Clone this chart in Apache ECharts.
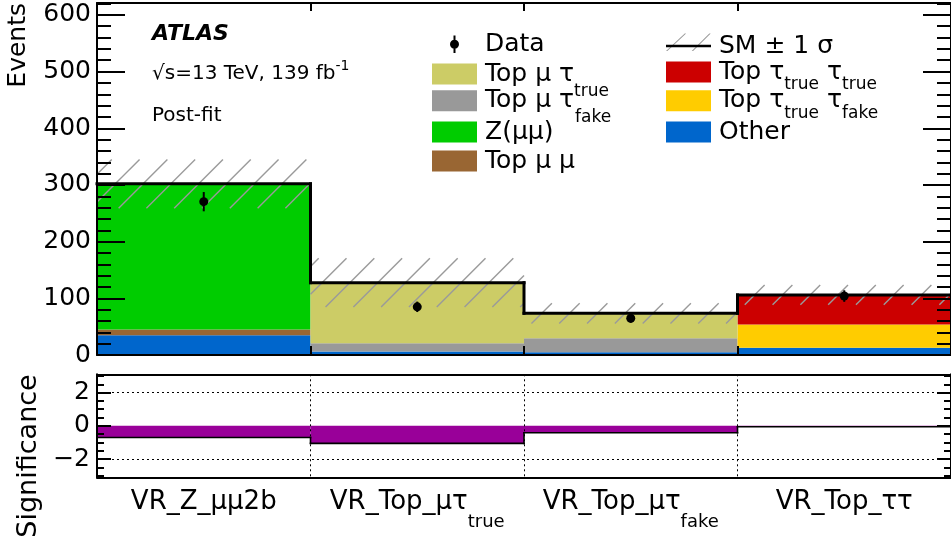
<!DOCTYPE html>
<html><head><meta charset="utf-8">
<script src="https://cdn.jsdelivr.net/npm/echarts@6/dist/echarts.min.js"></script>
<style>html,body{margin:0;padding:0;background:#fff}#c{width:951px;height:545px}</style>
</head><body><div id="c"></div>
<script>
// ---------------- data ----------------
const categories = ['VR_Z_μμ2b', 'VR_Top_μτ_true', 'VR_Top_μτ_fake', 'VR_Top_ττ'];
const tickLabelMain = ['VR_Z_μμ2b', 'VR_Top_μτ', 'VR_Top_μτ', 'VR_Top_ττ'];
const tickLabelSub = ['', 'true', 'fake', ''];

const other = [35, 6, 5, 13];
const topMuMu = [10, 0, 0, 0];
const topMuTauFake = [0, 14.6, 24.5, 0];
const topTauTrueTauFake = [0, 0, 0, 41];
const topTauTrueTauTrue = [0, 0, 0, 52];
const zMuMu = [257, 0, 0, 0];
const topMuTau = [0, 107, 44, 0];

const smUncertainty = [43, 43, 18, 17.5];
const dataValues = [270.5, 85, 64.8, 104];
const dataErrors = [17, 9.2, 8, 10.2];
const significance = [-0.7, -1.06, -0.42, -0.06];

const yTickLabels = [0, 100, 200, 300, 400, 500, 600];
const yMinorTicks = [0,20,40,60,80,100,120,140,160,180,200,220,240,260,280,300,320,340,360,380,400,420,440,460,480,500,520,540,560,580,600,620];
const sigTickLabels = [-2, 0, 2];
const sigMinorTicks = [-3,-2.5,-2,-1.5,-1,-0.5,0,0.5,1,1.5,2,2.5,3];

// ---------------- helpers ----------------
const FONT = 'DejaVu Sans';
const stackDefs = [
  {name: 'Other', data: other, color: '#0066cc'},
  {name: 'Top μ μ', data: topMuMu, color: '#996633'},
  {name: 'Top μ τ fake', data: topMuTauFake, color: '#999999'},
  {name: 'Top τ true τ fake', data: topTauTrueTauFake, color: '#ffcc00'},
  {name: 'Top τ true τ true', data: topTauTrueTauTrue, color: '#cc0000'},
  {name: 'Z(μμ)', data: zMuMu, color: '#00cc00'},
  {name: 'Top μ τ', data: topMuTau, color: '#cccc66'}
];
const totals = categories.map((c, i) => stackDefs.reduce((s, d) => s + d.data[i], 0));

const TOP_MAX = 621, SIG_MIN = -3.1, SIG_MAX = 3.1;

function stepRender(values, width) {
  return function (params, api) {
    const i = api.value(0), v = api.value(1);
    const c = api.coord([i, v]);
    const w = api.size([1, 0])[0];
    const x0 = c[0] - w / 2, x1 = c[0] + w / 2;
    const st = {stroke: '#000', lineWidth: width, lineCap: 'square'};
    const children = [{type: 'line', shape: {x1: x0, y1: c[1], x2: x1, y2: c[1]}, style: st}];
    if (i > 0) {
      const p = api.coord([i - 1, values[i - 1]]);
      children.push({type: 'line', shape: {x1: x0, y1: p[1], x2: x0, y2: c[1]}, style: st});
    }
    return {type: 'group', children};
  };
}

const series = [];
stackDefs.forEach(d => series.push({
  type: 'bar', name: d.name, stack: 'sm', xAxisIndex: 0, yAxisIndex: 0,
  data: d.data, barCategoryGap: '0%', itemStyle: {color: d.color, borderWidth: 0},
  emphasis: {disabled: true}, z: 2
}));
// uncertainty hatch
series.push({
  type: 'custom', name: 'SM unc', xAxisIndex: 0, yAxisIndex: 0, z: 3,
  itemStyle: {color: '#999999'},
  data: totals.map((t, i) => [i, t - smUncertainty[i], t + smUncertainty[i]]),
  renderItem: function (params, api) {
    const i = api.value(0), lo = api.value(1), hi = api.value(2);
    const cLo = api.coord([i, lo]), cHi = api.coord([i, hi]);
    const w = api.size([1, 0])[0];
    const x0 = cLo[0] - w / 2, x1 = cLo[0] + w / 2, yT = cHi[1], yB = cLo[1];
    const sp = 27.8, ph = 21;
    const children = [];
    const cMin = x0 + yT, cMax = x1 + yB;
    let k = Math.ceil((cMin - ph) / sp);
    for (let c = k * sp + ph; c <= cMax; c += sp) {
      const xa = Math.max(x0, c - yB), xb = Math.min(x1, c - yT);
      if (xb > xa) children.push({type: 'line', shape: {x1: xa, y1: c - xa, x2: xb, y2: c - xb},
        style: {stroke: '#9a9a9a', lineWidth: 1.4}});
    }
    return {type: 'group', children};
  }
});
// SM total line
series.push({
  type: 'custom', name: 'SM ± 1 σ', xAxisIndex: 0, yAxisIndex: 0, z: 4,
  itemStyle: {color: '#000'},
  data: totals.map((t, i) => [i, t]),
  renderItem: stepRender(totals, 3)
});
// data points
series.push({
  type: 'custom', name: 'Data', xAxisIndex: 0, yAxisIndex: 0, z: 5,
  itemStyle: {color: '#000'},
  data: dataValues.map((v, i) => [i, v, dataErrors[i]]),
  renderItem: function (params, api) {
    const i = api.value(0), v = api.value(1), e = api.value(2);
    const c = api.coord([i, v]), t = api.coord([i, v + e]), b = api.coord([i, v - e]);
    return {type: 'group', children: [
      {type: 'line', shape: {x1: c[0], y1: t[1], x2: c[0], y2: b[1]}, style: {stroke: '#000', lineWidth: 2}},
      {type: 'circle', shape: {cx: c[0], cy: c[1], r: 4.5}, style: {fill: '#000'}}
    ]};
  }
});
// significance
series.push({
  type: 'bar', name: 'Significance', xAxisIndex: 2, yAxisIndex: 4, data: significance,
  barCategoryGap: '0%', itemStyle: {color: '#990099'}, emphasis: {disabled: true}, z: 2,
  markLine: {silent: true, symbol: 'none', label: {show: false},
    lineStyle: {type: [2, 3], color: '#000', width: 1},
    data: [{yAxis: 2}, {yAxis: -2}]}
});
series.push({
  type: 'custom', name: 'sig outline', xAxisIndex: 2, yAxisIndex: 4, z: 4,
  data: significance.map((v, i) => [i, v]),
  renderItem: stepRender(significance, 1.6)
});

// ---------------- legend ----------------
const legendRich = {
  m: {fontFamily: FONT, fontSize: 25, lineHeight: 21, verticalAlign: 'middle', color: '#000', padding: [0, 0, 0, 3]},
  n: {fontFamily: FONT, fontSize: 25, lineHeight: 21, verticalAlign: 'middle', color: '#000'},
  sub: {fontFamily: FONT, fontSize: 17, lineHeight: 17, verticalAlign: 'middle', padding: [26, 0, 0, 0], color: '#000'},
  sup: {fontFamily: FONT, fontSize: 17, lineHeight: 17, verticalAlign: 'middle', padding: [0, 0, 18, 0], width: 1, color: '#000'},
  sub2: {fontFamily: FONT, fontSize: 17, lineHeight: 17, verticalAlign: 'middle', padding: [34, 0, 0, 0], color: '#000'}
};
const dataIcon = 'path://M0,0M45,21M21.5,1.7L23.5,1.7L23.5,19.3L21.5,19.3ZM18,10.5A4.5,4.5,0,1,1,27,10.5A4.5,4.5,0,1,1,18,10.5Z';
const smLineIcon = 'path://M0,0M45,21M0,9.3L45,9.3L45,11.7L0,11.7Z';
const smHatchIcon = 'path://M0,0M45,21M0,17.5L1.4,17.5L20.1,0L18.7,0ZM25.7,17.5L27.1,17.5L44.7,0L43.3,0Z';
const legendRows = [
  {name: 'SM unc', left: 666, cy: 44, h: 21, text: '', icon: smHatchIcon, color: '#999999'},
  {name: 'Data', left: 432, cy: 42.2, h: 21, text: '{m|Data}', icon: dataIcon, color: '#000'},
  {name: 'Top μ τ', left: 432, cy: 72, h: 21, text: '{m|Top μ τ}'},
  {name: 'Top μ τ fake', left: 432, cy: 100.7, h: 51, text: '{m|Top μ τ}{sup|true}{sub2|fake}'},
  {name: 'Z(μμ)', left: 432, cy: 130, h: 21, text: '{m|Z(μμ)}'},
  {name: 'Top μ μ', left: 432, cy: 159, h: 21, text: '{m|Top μ μ}'},
  {name: 'SM ± 1 σ', left: 666, cy: 44, h: 21, text: '{m|SM ± 1 σ}', icon: smLineIcon, color: '#000'},
  {name: 'Top τ true τ true', left: 666, cy: 72, h: 43, text: '{m|Top τ}{sub|true}{n| τ}{sub|true}'},
  {name: 'Top τ true τ fake', left: 666, cy: 100.7, h: 43, text: '{m|Top τ}{sub|true}{n| τ}{sub|fake}'},
  {name: 'Other', left: 666, cy: 130, h: 21, text: '{m|Other}'}
];
const legends = legendRows.map((r, k) => {
  const item = {name: r.name, icon: r.icon || 'rect'};
  if (r.color) item.itemStyle = {color: r.color, borderWidth: 0};
  return {
    show: true, selectedMode: false, orient: 'vertical', z: 10 + k,
    left: r.left, top: r.cy - r.h / 2, padding: 0, itemGap: 0,
    itemWidth: 45, itemHeight: 21, data: [item],
    formatter: () => r.text,
    textStyle: {fontFamily: FONT, fontSize: 25, lineHeight: 21, color: '#000', rich: legendRich}
  };
});

// ---------------- axes ----------------
const axisLine = {show: true, onZero: false, lineStyle: {color: '#000', width: 2}};
const tickStyle = {color: '#000', width: 2};
function catAxis(grid, pos, extra) {
  return Object.assign({
    type: 'category', gridIndex: grid, position: pos, data: categories, z: 10,
    axisLine: axisLine, axisTick: {show: false}, axisLabel: {show: false}, splitLine: {show: false}
  }, extra);
}
function valAxis(grid, pos, min, max, ticks, len, extra) {
  return Object.assign({
    type: 'value', gridIndex: grid, position: pos, min: min, max: max, z: 10,
    axisLine: {show: false}, splitLine: {show: false},
    axisTick: {show: true, inside: true, length: len, customValues: ticks, lineStyle: tickStyle},
    axisLabel: {show: false}
  }, extra);
}
const sigFmt = v => (v < 0 ? '\u2212' + Math.abs(v) : String(v));

const option = {
  animation: false,
  backgroundColor: '#fff',
  grid: [
    {left: 97, top: 3, width: 860, height: 352, show: false},
    {left: 97, top: 374.3, width: 860, height: 103, show: false}
  ],
  xAxis: [
    catAxis(0, 'bottom', {axisTick: {show: true, inside: true, length: 9, interval: 0, lineStyle: tickStyle}}),
    catAxis(0, 'top', {axisTick: {show: true, inside: true, length: 8, interval: 0, lineStyle: tickStyle}}),
    catAxis(1, 'bottom', {
      splitLine: {show: true, interval: 0, lineStyle: {type: [2, 3], color: '#000', width: 1}},
      axisLabel: {
        show: true, interval: 0, margin: -5, color: '#000',
        formatter: (v, idx) => '{m|' + tickLabelMain[idx] + '}' + (tickLabelSub[idx] ? '{s|' + tickLabelSub[idx] + '}' : ''),
        rich: {
          m: {fontFamily: FONT, fontSize: 26, lineHeight: 60, verticalAlign: 'middle', color: '#000'},
          s: {fontFamily: FONT, fontSize: 18, lineHeight: 18, verticalAlign: 'middle', padding: [40, 0, 0, 0], color: '#000'}
        }
      }
    }),
    catAxis(1, 'top', {})
  ],
  yAxis: [
    valAxis(0, 'left', 0, TOP_MAX, yTickLabels, 28, {
      axisLine: axisLine,
      axisLabel: {show: true, customValues: yTickLabels, margin: 6, color: '#000', fontFamily: FONT, fontSize: 25},
      name: 'Events', nameLocation: 'end', nameRotate: 90, nameGap: 0,
      nameTextStyle: {fontFamily: FONT, fontSize: 25, color: '#000', align: 'right', verticalAlign: 'bottom', padding: [0, 0, 66, 0]}
    }),
    valAxis(0, 'left', 0, TOP_MAX, yMinorTicks, 14),
    valAxis(0, 'right', 0, TOP_MAX, yTickLabels, 28, {axisLine: axisLine}),
    valAxis(0, 'right', 0, TOP_MAX, yMinorTicks, 14),
    valAxis(1, 'left', SIG_MIN, SIG_MAX, sigTickLabels, 14, {
      axisLine: axisLine,
      axisLabel: {show: true, customValues: sigTickLabels, formatter: sigFmt, margin: 7, color: '#000', fontFamily: FONT, fontSize: 25},
      name: 'Significance', nameLocation: 'end', nameRotate: 90, nameGap: 0,
      nameTextStyle: {fontFamily: FONT, fontSize: 27, color: '#000', align: 'right', verticalAlign: 'bottom', padding: [0, 0, 55, 0]}
    }),
    valAxis(1, 'left', SIG_MIN, SIG_MAX, sigMinorTicks, 7),
    valAxis(1, 'right', SIG_MIN, SIG_MAX, sigTickLabels, 14, {axisLine: axisLine}),
    valAxis(1, 'right', SIG_MIN, SIG_MAX, sigMinorTicks, 7)
  ],
  legend: legends,
  graphic: [
    {type: 'text', x: 152, y: 34.5, z: 20, style: {text: 'ATLAS', fontFamily: FONT, fontSize: 22, fontWeight: 'bold', fontStyle: 'italic', fill: '#000', verticalAlign: 'middle'}},
    {type: 'text', x: 152, y: 73.4, z: 20, style: {
      text: '{m|√s=13 TeV, 139 fb}{sup|-1}', fill: '#000', verticalAlign: 'middle',
      rich: {
        m: {fontFamily: FONT, fontSize: 20, lineHeight: 20, verticalAlign: 'middle', fill: '#000'},
        sup: {fontFamily: FONT, fontSize: 14, lineHeight: 14, verticalAlign: 'middle', padding: [0, 0, 15, 0], fill: '#000'}
      }}},
    {type: 'text', x: 152, y: 115.8, z: 20, style: {text: 'Post-fit', fontFamily: FONT, fontSize: 20, fill: '#000', verticalAlign: 'middle'}}
  ],
  series: series
};

const chart = echarts.init(document.getElementById('c'), null, {renderer: 'canvas'});
chart.setOption(option);
</script>
</body></html>
